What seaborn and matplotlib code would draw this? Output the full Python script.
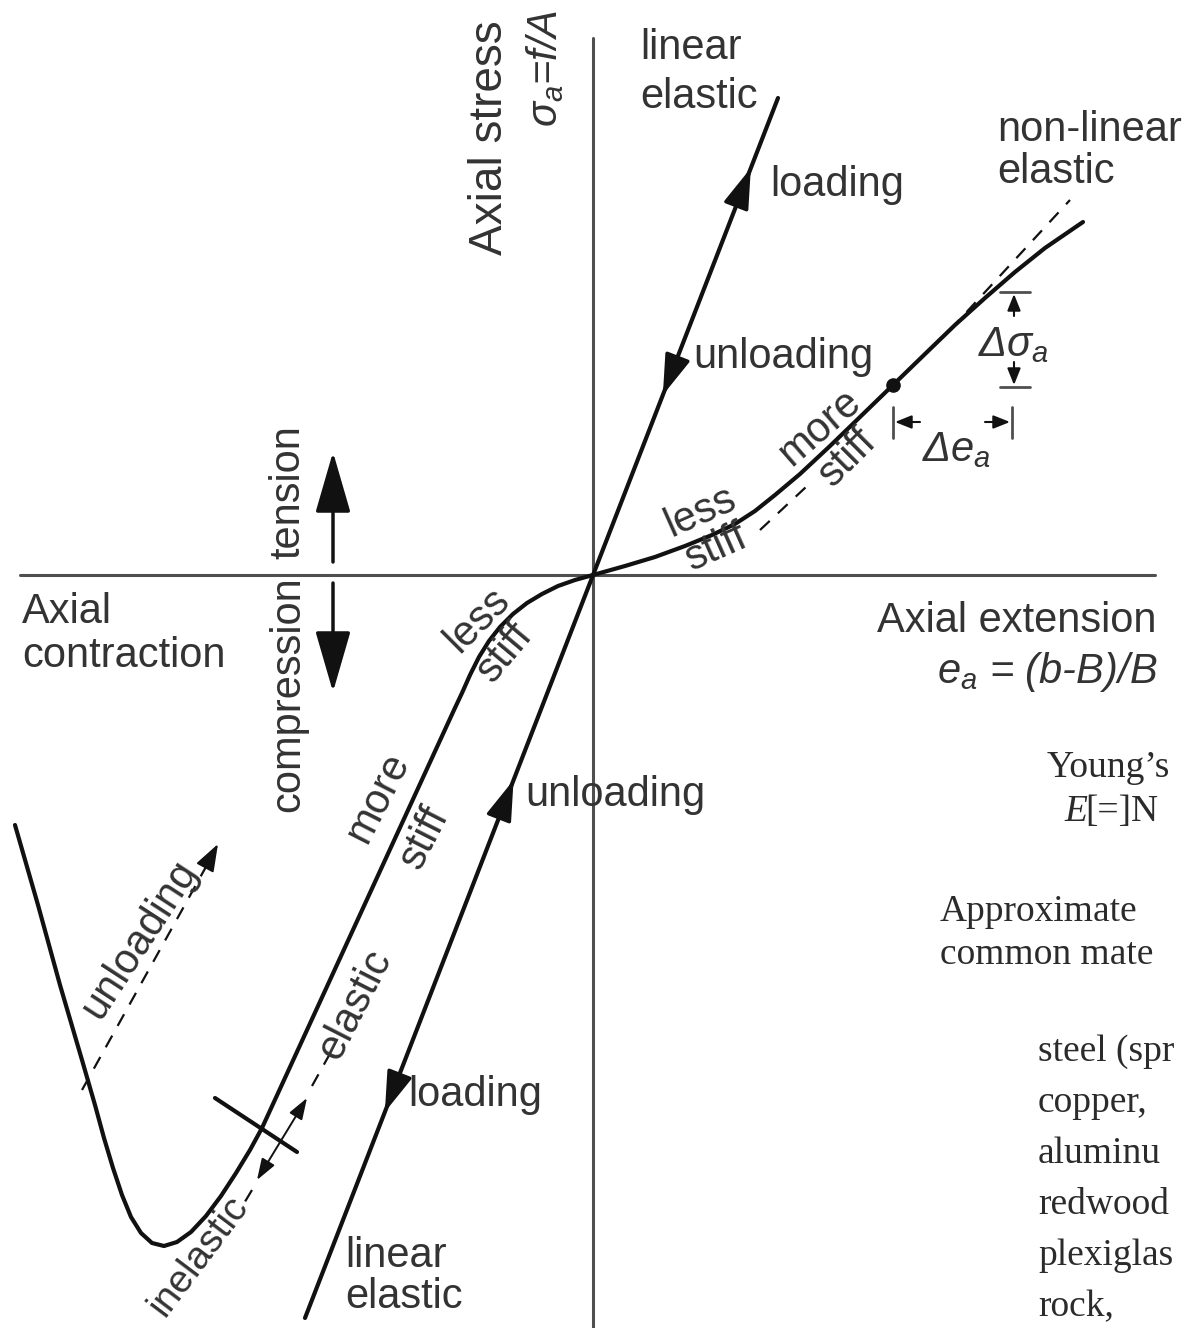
import numpy as np
import matplotlib
matplotlib.use("Agg")
import matplotlib.pyplot as plt
import seaborn as sns

# size of the sketch, all positions are in pixels of the reference picture
W, H = 1189, 1328

# axes of the diagram
v_axis_x = [593, 593]
v_axis_y = [38, 1328]
h_axis_x = [20, 1155]
h_axis_y = [575, 575]

# linear elastic line (goes through the origin)
linear_x = [305, 778]
linear_y = [1318, 98]
# arrow heads along the linear line: y of the tip and direction (-1 up, 1 down)
arrow_tip_y = [168, 395, 780, 1112]
arrow_dir = [-1, 1, -1, 1]

# non-linear elastic curve in tension
tension_x = [593, 625, 655, 685, 712, 735, 755, 775, 800, 830, 860, 893, 925, 955, 985, 1015, 1045, 1083]
tension_y = [575, 566, 557, 546, 535, 524, 511, 495, 474, 446, 417, 385, 354, 325, 298, 272, 248, 222]

# compression curve: less stiff -> more stiff -> yield -> inelastic
compress_x = [593, 575, 558, 542, 527, 513, 500, 489, 479, 470, 462, 454,
              262, 250, 236, 221, 206, 191, 177, 164, 152, 141, 131, 122, 113, 104,
              95, 82, 60, 38, 15]
compress_y = [575, 580, 586, 594, 603, 614, 627, 641, 657, 675, 693, 710,
              1128, 1150, 1173, 1196, 1216, 1232, 1242, 1246, 1243, 1233, 1217, 1195, 1168, 1138,
              1105, 1060, 985, 905, 825]

# dashed helper lines
tan_low_x, tan_low_y = [760, 806], [530, 487]
tan_high_x, tan_high_y = [950, 1070], [330, 200]
unload_x, unload_y = [82, 212], [1090, 856]
elastic_dash_x, elastic_dash_y = [312, 332], [1086, 1050]
inelastic_dash_x, inelastic_dash_y = [252, 243], [1190, 1205]

# yield mark and start point of the increments
yield_x, yield_y = [215, 297], [1098, 1152]
dot_x, dot_y = [893], [385]

# book text on the right side (the picture cuts it off)
book_head = ["Young\u2019s", "Approximate", "common mate"]
book_list = ["steel (spr", "copper,", "aluminu", "redwood", "plexiglas", "rock,"]

sns.set_theme(style="white")
plt.rcParams["font.family"] = ["Liberation Sans", "DejaVu Sans"]
plt.rcParams["mathtext.fontset"] = "custom"
plt.rcParams["mathtext.rm"] = "Liberation Sans:italic"
plt.rcParams["mathtext.it"] = "Liberation Sans:italic"

fig = plt.figure(figsize=(W / 100, H / 100), dpi=100)
ax = fig.add_axes([0, 0, 1, 1])
ax.set_xlim(0, W)
ax.set_ylim(H, 0)
ax.axis("off")

LINE = "#111111"
AXC = "#4f4f4f"
TXT = "#333333"


def draw(xs, ys, **kw):
    sns.lineplot(x=xs, y=ys, sort=False, estimator=None, ax=ax, **kw)


def head(tail, tip, scale=20, hl=1.25, hw=0.4, lw=2.5, style="-|>"):
    ax.annotate("", xy=tip, xytext=tail,
                arrowprops=dict(arrowstyle=f"{style},head_length={hl},head_width={hw}",
                                mutation_scale=scale, color=LINE, lw=lw,
                                shrinkA=0, shrinkB=0))


# axes
draw(v_axis_x, v_axis_y, color=AXC, linewidth=2.2)
draw(h_axis_x, h_axis_y, color=AXC, linewidth=2.2)

# curves
draw(linear_x, linear_y, color=LINE, linewidth=3)
draw(tension_x, tension_y, color=LINE, linewidth=3)
draw(compress_x, compress_y, color=LINE, linewidth=3)

dash = dict(color=LINE, linewidth=1.6, linestyle=(0, (6, 5)))
draw(tan_low_x, tan_low_y, **dash)
draw(tan_high_x, tan_high_y, **dash)
draw(unload_x, unload_y, **dash)
draw(elastic_dash_x, elastic_dash_y, **dash)
draw(inelastic_dash_x, inelastic_dash_y, **dash)

# arrow heads along the linear elastic line
ux = (linear_x[1] - linear_x[0])
uy = (linear_y[1] - linear_y[0])
n = np.hypot(ux, uy)
ux, uy = ux / n, uy / n
for ty, d in zip(arrow_tip_y, arrow_dir):
    tx = np.interp(ty, linear_y[::-1], linear_x[::-1])
    s = -d
    head((tx - s * ux * 40, ty - s * uy * 40), (tx, ty))

# unloading dashed arrow tip
head((unload_x[1] - 6, unload_y[1] + 10), (unload_x[1] + 6, unload_y[1] - 12), scale=12, hl=1.4, hw=0.5, lw=1.5)
# elastic double arrow
head((257, 1180), (307, 1098), scale=10, hl=1.3, hw=0.45, lw=1.4, style="<|-|>")

# yield mark and dot
draw(yield_x, yield_y, color=LINE, linewidth=3)
ax.scatter(dot_x, dot_y, s=90, color=LINE, zorder=5)

# tension / compression arrows
head((333, 562), (333, 452), scale=20, hl=1.9, hw=0.55, lw=2.5)
head((333, 583), (333, 692), scale=20, hl=1.9, hw=0.55, lw=2.5)

# increment markers
ax.plot([1000, 1030], [292, 292], color=AXC, lw=2)
ax.plot([1000, 1030], [387, 387], color=AXC, lw=2)
head((1014, 316), (1014, 294), scale=10, hl=1.0, hw=0.4, lw=1.5)
head((1014, 362), (1014, 385), scale=10, hl=1.0, hw=0.4, lw=1.5)
ax.plot([893, 893], [407, 438], color=AXC, lw=2)
ax.plot([1012, 1012], [407, 438], color=AXC, lw=2)
head((920, 422), (895, 422), scale=10, hl=1.0, hw=0.4, lw=1.5)
head((985, 422), (1010, 422), scale=10, hl=1.0, hw=0.4, lw=1.5)

FS = 30
def label(x, y, s, rot=0, ha="left", size=FS, **kw):
    ax.text(x, y, s, rotation=rot, ha=ha, va="center", fontsize=size, color=TXT,
            rotation_mode="anchor", **kw)

label(490, 138, "Axial stress", rot=90, ha="center", size=33)
label(545, 68, r"$\sigma_a$=f/A", rot=90, ha="center", style="italic")
label(640, 48, "linear")
label(640, 97, "elastic")
label(770, 185, "loading")
label(997, 130, "non-linear")
label(997, 172, "elastic")
label(693, 357, "unloading")
label(978, 345, r"$\Delta\sigma_a$")
label(957, 450, r"$\Delta e_a$", ha="center")
label(700, 512, "less", rot=24, ha="center")
label(717, 548, "stiff", rot=24, ha="center")
label(820, 428, "more", rot=41, ha="center")
label(848, 458, "stiff", rot=45, ha="center")
label(288, 492, "tension", rot=90, ha="center")
label(288, 694, "compression", rot=90, ha="center")
label(22, 612, "Axial")
label(22, 656, "contraction")
label(877, 621, "Axial extension")
label(1157, 672, r"$e_a$ = (b-B)/B", ha="right", style="italic")
label(478, 620, "less", rot=45, ha="center")
label(505, 652, "stiff", rot=50, ha="center")
label(378, 798, "more", rot=63, ha="center")
label(425, 838, "stiff", rot=63, ha="center")
label(525, 795, "unloading")
label(408, 1095, "loading")
label(345, 1256, "linear")
label(345, 1297, "elastic")
label(140, 940, "unloading", rot=57, ha="center")
label(355, 1005, "elastic", rot=63, ha="center")
label(199, 1256, "inelastic", rot=53, ha="center", size=28)

# book text on the right
SER = dict(family="Liberation Serif", color="#2b2b2b", fontsize=27, va="center")
ax.text(1047, 768, book_head[0], **SER)
ax.text(1064, 812, "E", style="italic", **SER)
ax.text(1085, 812, "[=]N", **SER)
ax.text(940, 912, book_head[1], **SER)
ax.text(940, 955, book_head[2], **SER)
for i, s in enumerate(book_list):
    ax.text(1038, 1052 + 51 * i, s, **SER)

fig.savefig("out.png", dpi=100)
